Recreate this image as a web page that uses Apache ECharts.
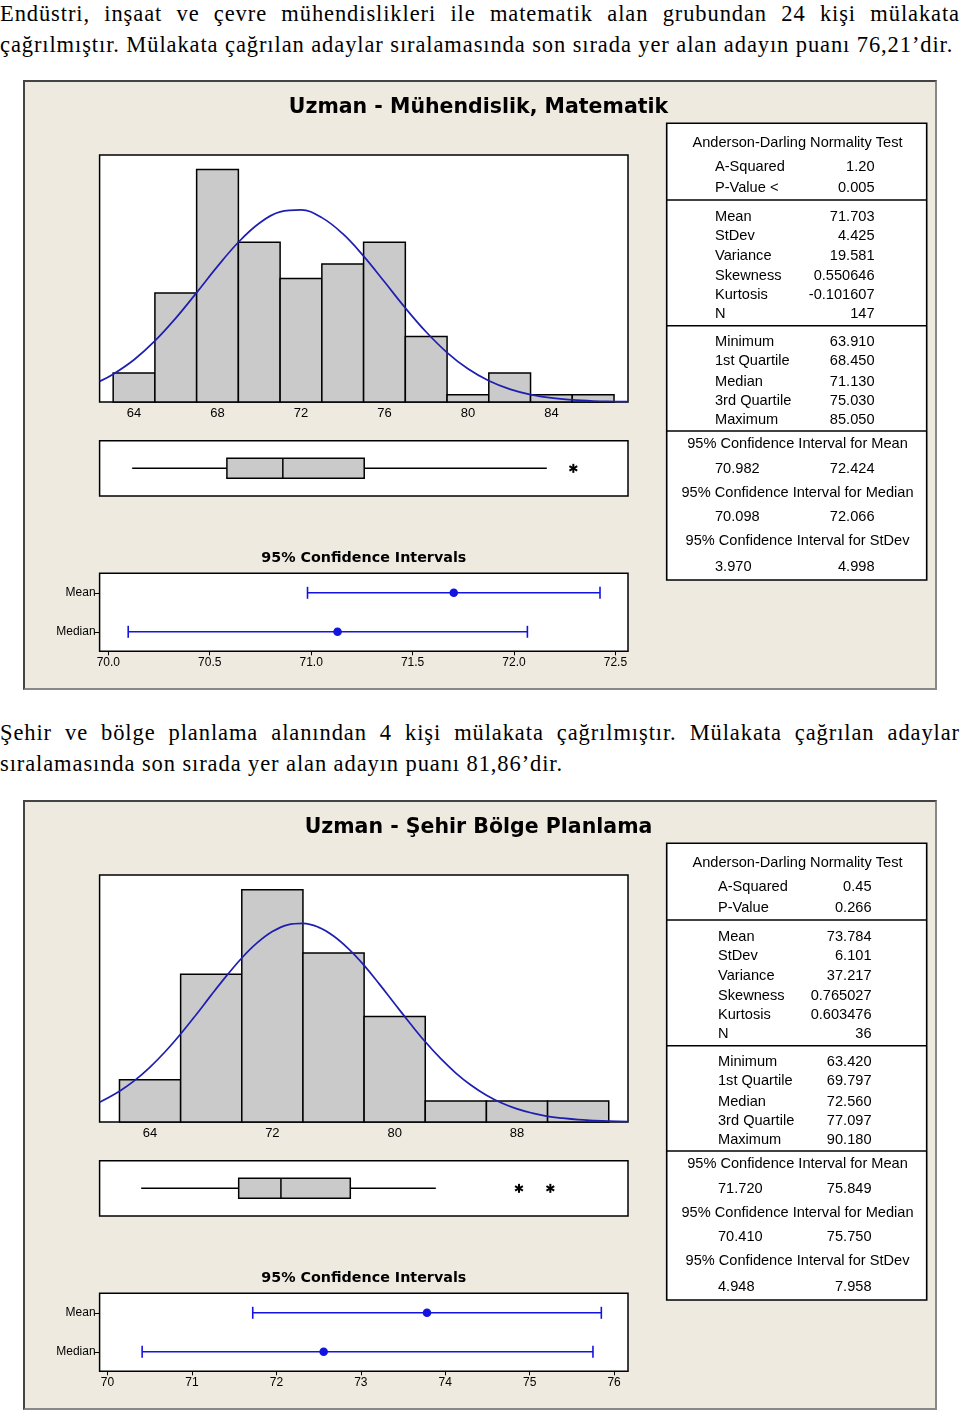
<!DOCTYPE html>
<html><head><meta charset="utf-8">
<script src="https://cdn.jsdelivr.net/npm/echarts@6/dist/echarts.min.js"></script>
<style>
html,body{margin:0;padding:0;background:#fff;}
#wrap{position:relative;width:960px;height:1416px;overflow:hidden;background:#fff;}
.panel{position:absolute;left:23px;width:914px;height:610px;box-sizing:border-box;background:#eeeae0;border:2px solid #444;border-right-color:#888;border-bottom-color:#888;}
#chart{position:absolute;left:0;top:0;width:960px;height:1416px;}
.para{position:absolute;left:0;width:960px;font-family:'Liberation Serif','Times New Roman',serif;font-size:22.5px;letter-spacing:0.9px;line-height:31px;color:#000;white-space:nowrap;}
.just{text-align:justify;text-align-last:justify;}
</style></head><body>
<div id="wrap">
<div class="panel" style="top:80px"></div>
<div class="panel" style="top:800px"></div>
<div class="para just" style="top:-2.5px">Endüstri, inşaat ve çevre mühendislikleri ile matematik alan grubundan 24 kişi mülakata</div>
<div class="para" style="top:28.5px">çağrılmıştır. Mülakata çağrılan adaylar sıralamasında son sırada yer alan adayın puanı 76,21’dir.</div>
<div class="para just" style="top:716.5px">Şehir ve bölge planlama alanından 4 kişi mülakata çağrılmıştır. Mülakata çağrılan adaylar</div>
<div class="para" style="top:747.5px">sıralamasında son sırada yer alan adayın puanı 81,86’dir.</div>
<div id="chart"></div>
</div>
<script>
// ---------- Panel 1 data: Uzman - Mühendislik, Matematik ----------
const title1 = 'Uzman - Mühendislik, Matematik';
const histBinStart1 = [63, 65, 67, 69, 71, 73, 75, 77, 79, 81, 83, 85];
const histCounts1 = [4, 15, 32, 22, 17, 19, 22, 9, 1, 4, 1, 1];
const binWidth1 = 2;
const histRange1 = [62.35, 87.67];
const histYMax1 = 34;
const histTicks1 = [64, 68, 72, 76, 80, 84];
const curveX1 = [62.35, 63, 64, 65, 66, 67, 68, 69, 70, 71, 72, 73, 74, 75, 76, 77, 78, 79, 80, 81, 82, 83, 84, 85, 86, 87, 87.67];
const curveY1 = [2.84, 3.83, 5.82, 8.41, 11.55, 15.06, 18.67, 21.99, 24.61, 26.17, 26.44, 25.38, 23.16, 20.08, 16.54, 12.94, 9.63, 6.81, 4.57, 2.92, 1.77, 1.02, 0.56, 0.29, 0.14, 0.07, 0.04];
const box1 = [63.91, 68.45, 71.13, 75.03, 83.78];   // low whisker, Q1, median, Q3, high whisker
const outliers1 = [85.05];
const ciRange1 = [69.957, 72.562];
const ciTicks1 = [70.0, 70.5, 71.0, 71.5, 72.0, 72.5];
const ciMean1 = [70.982, 71.703, 72.424];
const ciMedian1 = [70.098, 71.13, 72.066];
const adLabels1 = ['A-Squared', 'P-Value <'];
const adValues1 = ['1.20', '0.005'];
const momentValues1 = ['71.703', '4.425', '19.581', '0.550646', '-0.101607', '147'];
const quantValues1 = ['63.910', '68.450', '71.130', '75.030', '85.050'];
const ciValues1 = [['70.982', '72.424'], ['70.098', '72.066'], ['3.970', '4.998']];

// ---------- Panel 2 data: Uzman - Şehir Bölge Planlama ----------
const title2 = 'Uzman - Şehir Bölge Planlama';
const histBinStart2 = [62, 66, 70, 74, 78, 82, 86, 90];
const histCounts2 = [2, 7, 11, 8, 5, 1, 1, 1];
const binWidth2 = 4;
const histRange2 = [60.7, 95.26];
const histYMax2 = 11.7;
const histTicks2 = [64, 72, 80, 88];
const curveX2 = [60.7, 62, 63, 64, 65, 66, 67, 68, 69, 70, 71, 72, 73, 74, 75, 76, 77, 78, 79, 80, 81, 82, 83, 84, 85, 86, 87, 88, 89, 90, 91, 92, 93, 94, 95.26];
const curveY2 = [0.94, 1.46, 1.97, 2.60, 3.34, 4.17, 5.07, 6.01, 6.92, 7.77, 8.48, 9.02, 9.34, 9.41, 9.23, 8.81, 8.19, 7.42, 6.53, 5.60, 4.68, 3.80, 3.01, 2.32, 1.74, 1.27, 0.90, 0.62, 0.42, 0.27, 0.18, 0.11, 0.07, 0.04, 0.02];
const box2 = [63.42, 69.797, 72.56, 77.097, 82.69];
const outliers2 = [88.13, 90.18];
const ciRange2 = [69.906, 76.165];
const ciTicks2 = [70, 71, 72, 73, 74, 75, 76];
const ciMean2 = [71.72, 73.784, 75.849];
const ciMedian2 = [70.41, 72.56, 75.75];
const adLabels2 = ['A-Squared', 'P-Value'];
const adValues2 = ['0.45', '0.266'];
const momentValues2 = ['73.784', '6.101', '37.217', '0.765027', '0.603476', '36'];
const quantValues2 = ['63.420', '69.797', '72.560', '77.097', '90.180'];
const ciValues2 = [['71.720', '75.849'], ['70.410', '75.750'], ['4.948', '7.958']];

// ---------- shared labels ----------
const ciCategories = ['Median', 'Mean'];
const ciSubTitle = '95% Confidence Intervals';
const adHeader = 'Anderson-Darling Normality Test';
const momentLabels = ['Mean', 'StDev', 'Variance', 'Skewness', 'Kurtosis', 'N'];
const quantLabels = ['Minimum', '1st Quartile', 'Median', '3rd Quartile', 'Maximum'];
const ciHeaders = ['95% Confidence Interval for Mean', '95% Confidence Interval for Median', '95% Confidence Interval for StDev'];

// ---------- build ----------
const SANS = '"Liberation Sans", Arial, sans-serif';
const BOLD = '"DejaVu Sans", Verdana, sans-serif';
const CURVE = '#1e1eb0';
const CI = '#1414e0';
const BARFILL = '#cacaca';

const panels = [
  {dy: 0, title: title1, starts: histBinStart1, counts: histCounts1, bw: binWidth1, hr: histRange1, ymax: histYMax1, ht: histTicks1,
   cx: curveX1, cy: curveY1, box: box1, out: outliers1, cr: ciRange1, ct: ciTicks1, cm: ciMean1, cmed: ciMedian1,
   adL: adLabels1, adV: adValues1, mV: momentValues1, qV: quantValues1, ciV: ciValues1, lx: 715, rx: 874.5, fmt: 1},
  {dy: 720, title: title2, starts: histBinStart2, counts: histCounts2, bw: binWidth2, hr: histRange2, ymax: histYMax2, ht: histTicks2,
   cx: curveX2, cy: curveY2, box: box2, out: outliers2, cr: ciRange2, ct: ciTicks2, cm: ciMean2, cmed: ciMedian2,
   adL: adLabels2, adV: adValues2, mV: momentValues2, qV: quantValues2, ciV: ciValues2, lx: 718, rx: 871.5, fmt: 0}
];

const grids = [], xAxes = [], yAxes = [], series = [], graphics = [];
const PL = 99.6, PW = 528.4;

panels.forEach((p, pi) => {
  const g0 = pi * 3;
  const gridBase = {left: PL, width: PW, show: true, backgroundColor: '#fff', borderColor: '#000', borderWidth: 1.5, containLabel: false};
  grids.push(Object.assign({}, gridBase, {top: 155 + p.dy, height: 247}));
  grids.push(Object.assign({}, gridBase, {top: 440.7 + p.dy, height: 55.3}));
  grids.push(Object.assign({}, gridBase, {top: 573.3 + p.dy, height: 78}));

  const lblStyle = {color: '#000', fontFamily: SANS, fontSize: 13};
  // histogram axes
  xAxes.push({gridIndex: g0, type: 'value', min: p.hr[0], max: p.hr[1], splitLine: {show: false}, axisLine: {show: false},
    axisTick: {show: false}, axisLabel: Object.assign({customValues: p.ht, margin: 5}, lblStyle)});
  yAxes.push({gridIndex: g0, type: 'value', min: 0, max: p.ymax, show: false, splitLine: {show: false}});
  // boxplot axes
  xAxes.push({gridIndex: g0 + 1, type: 'value', min: p.hr[0], max: p.hr[1], show: false, splitLine: {show: false}});
  yAxes.push({gridIndex: g0 + 1, type: 'value', min: 0, max: 1, show: false, splitLine: {show: false}});
  // CI axes
  xAxes.push({gridIndex: g0 + 2, type: 'value', min: p.cr[0], max: p.cr[1], splitLine: {show: false}, axisLine: {show: false},
    axisTick: {show: true, customValues: p.ct, length: 4, lineStyle: {color: '#000', width: 1}},
    axisLabel: Object.assign({customValues: p.ct, margin: 5, formatter: v => Number(v).toFixed(p.fmt)}, lblStyle, {fontSize: 12})});
  yAxes.push({gridIndex: g0 + 2, type: 'category', data: ciCategories, splitLine: {show: false}, axisLine: {show: false},
    axisTick: {show: true, alignWithLabel: true, length: 5, lineStyle: {color: '#000', width: 1}},
    axisLabel: {color: '#000', fontFamily: SANS, fontSize: 12, margin: 4}});

  // histogram bars
  series.push({type: 'custom', xAxisIndex: g0, yAxisIndex: g0, silent: true, z: 2,
    data: p.starts.map((s, i) => [s, s + p.bw, p.counts[i]]),
    encode: {x: [0, 1], y: 2},
    renderItem: (params, api) => {
      const a = api.coord([api.value(0), api.value(2)]);
      const b = api.coord([api.value(1), 0]);
      return {type: 'rect', shape: {x: a[0], y: a[1], width: b[0] - a[0], height: b[1] - a[1]},
        style: {fill: BARFILL, stroke: '#000', lineWidth: 1.5}};
    }});
  // normal curve
  series.push({type: 'line', xAxisIndex: g0, yAxisIndex: g0, silent: true, z: 3, smooth: 0.4, showSymbol: false, symbol: 'none',
    data: p.cx.map((x, i) => [x, p.cy[i]]), lineStyle: {color: CURVE, width: 1.7}});
  // box plot
  series.push({type: 'custom', xAxisIndex: g0 + 1, yAxisIndex: g0 + 1, silent: true,
    data: [p.box.concat([0.5])],
    encode: {x: [0, 4], y: 5},
    renderItem: (params, api) => {
      const yc = api.coord([api.value(0), api.value(5)])[1];
      const X = i => api.coord([api.value(i), 0.5])[0];
      const h = 10, st = {stroke: '#000', lineWidth: 1.5};
      return {type: 'group', children: [
        {type: 'line', shape: {x1: X(0), y1: yc, x2: X(1), y2: yc}, style: st},
        {type: 'line', shape: {x1: X(3), y1: yc, x2: X(4), y2: yc}, style: st},
        {type: 'rect', shape: {x: X(1), y: yc - h, width: X(3) - X(1), height: 2 * h}, style: {fill: BARFILL, stroke: '#000', lineWidth: 1.5}},
        {type: 'line', shape: {x1: X(2), y1: yc - h, x2: X(2), y2: yc + h}, style: st}
      ]};
    }});
  // outliers (asterisks)
  series.push({type: 'custom', xAxisIndex: g0 + 1, yAxisIndex: g0 + 1, silent: true,
    data: p.out.map(v => [v, 0.5]),
    encode: {x: 0, y: 1},
    renderItem: (params, api) => {
      const c = api.coord([api.value(0), api.value(1)]);
      const st = {stroke: '#000', lineWidth: 2};
      const r = 4.5, dx = r * 0.866, dyy = r * 0.5;
      return {type: 'group', children: [
        {type: 'line', shape: {x1: c[0], y1: c[1] - r, x2: c[0], y2: c[1] + r}, style: st},
        {type: 'line', shape: {x1: c[0] - dx, y1: c[1] - dyy, x2: c[0] + dx, y2: c[1] + dyy}, style: st},
        {type: 'line', shape: {x1: c[0] - dx, y1: c[1] + dyy, x2: c[0] + dx, y2: c[1] - dyy}, style: st}
      ]};
    }});
  // CI intervals
  series.push({type: 'custom', xAxisIndex: g0 + 2, yAxisIndex: g0 + 2, silent: true,
    data: [[p.cmed[0], p.cmed[1], p.cmed[2], 0], [p.cm[0], p.cm[1], p.cm[2], 1]],
    encode: {x: [0, 2], y: 3},
    renderItem: (params, api) => {
      const lo = api.coord([api.value(0), api.value(3)]);
      const md = api.coord([api.value(1), api.value(3)]);
      const hi = api.coord([api.value(2), api.value(3)]);
      const st = {stroke: CI, lineWidth: 1.6}, cap = 6;
      return {type: 'group', children: [
        {type: 'line', shape: {x1: lo[0], y1: lo[1], x2: hi[0], y2: hi[1]}, style: st},
        {type: 'line', shape: {x1: lo[0], y1: lo[1] - cap, x2: lo[0], y2: lo[1] + cap}, style: st},
        {type: 'line', shape: {x1: hi[0], y1: hi[1] - cap, x2: hi[0], y2: hi[1] + cap}, style: st},
        {type: 'circle', shape: {cx: md[0], cy: md[1], r: 4.3}, style: {fill: CI}}
      ]};
    }});

  // titles
  const dy = p.dy;
  const T = (t, x, y, font, align) => ({type: 'text', x: x, y: y + dy, z: 20,
    style: {text: t, font: font, fill: '#000', align: align, verticalAlign: 'middle', textAlign: align, textVerticalAlign: 'middle'}});
  graphics.push(T(p.title, 478.5, 108, 'bold 20.5px ' + BOLD, 'center'));
  graphics.push(T(ciSubTitle, 363.8, 558, 'bold 14.3px ' + BOLD, 'center'));

  // stats table
  const L = 666.7, R = 926.7, TT = 123.3, B = 580;
  graphics.push({type: 'rect', z: 10, shape: {x: L, y: TT + dy, width: R - L, height: B - TT}, style: {fill: '#fff', stroke: '#000', lineWidth: 1.6}});
  [200, 325.7, 431].forEach(y => graphics.push({type: 'line', z: 11, shape: {x1: L, y1: y + dy, x2: R, y2: y + dy}, style: {stroke: '#000', lineWidth: 1.6}}));
  const F = '14.6px ' + SANS;
  graphics.push(T(adHeader, 797.5, 143.3, F, 'center'));
  [166.7, 188.3].forEach((y, i) => { graphics.push(T(p.adL[i], p.lx, y, F, 'left')); graphics.push(T(p.adV[i], p.rx, y, F, 'right')); });
  [216.7, 236, 255.5, 275.5, 294.5, 313.5].forEach((y, i) => { graphics.push(T(momentLabels[i], p.lx, y, F, 'left')); graphics.push(T(p.mV[i], p.rx, y, F, 'right')); });
  [341.7, 361, 381.5, 401, 420].forEach((y, i) => { graphics.push(T(quantLabels[i], p.lx, y, F, 'left')); graphics.push(T(p.qV[i], p.rx, y, F, 'right')); });
  [444, 492.7, 540.7].forEach((y, i) => graphics.push(T(ciHeaders[i], 797.5, y, F, 'center')));
  [469.3, 516.7, 566.7].forEach((y, i) => { graphics.push(T(p.ciV[i][0], p.lx, y, F, 'left')); graphics.push(T(p.ciV[i][1], p.rx, y, F, 'right')); });
});

const chart = echarts.init(document.getElementById('chart'), null, {renderer: 'canvas'});
chart.setOption({
  backgroundColor: 'transparent',
  animation: false,
  grid: grids,
  xAxis: xAxes,
  yAxis: yAxes,
  series: series,
  graphic: {elements: graphics}
});
</script>
</body></html>
